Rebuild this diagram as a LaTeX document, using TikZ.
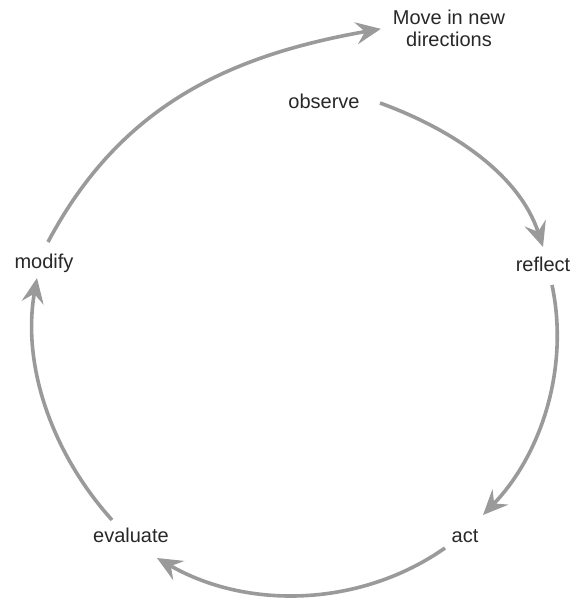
\documentclass[tikz,border=0pt]{standalone}
\usepackage{fontspec}
\setmainfont{Liberation Sans}
\usetikzlibrary{arrows.meta}
\definecolor{arrowgray}{RGB}{154,154,154}
\definecolor{textgray}{RGB}{40,40,40}
\begin{document}
\begin{tikzpicture}[x=1pt,y=1pt,
  lbl/.style={inner sep=0pt,outer sep=0pt,text=textgray,font=\fontsize{20}{22}\selectfont},
  cyc/.style={draw=arrowgray,line width=3.6pt,-{Stealth[length=25pt,width=22pt,inset=9pt]}}]
\useasboundingbox[fill=white] (0,0) rectangle (572,598);
\node[lbl,anchor=base] (observe) at (324,489) {observe};
\node[lbl,anchor=base] (reflect) at (543,326) {reflect};
\node[lbl,anchor=base] (act) at (465,56) {act};
\node[lbl,anchor=base] (evaluate) at (131,55) {evaluate};
\node[lbl,anchor=base] (modify) at (44,329) {modify};
\node[lbl,anchor=north,align=center] (move) at (449,587.5) {Move in new\\directions};
\draw[cyc] ([shift={(56pt,6pt)}]observe.base) to[out=-20,in=108,looseness=0.9] ([shift={(0pt,25pt)}]reflect.base);
\draw[cyc] ([shift={(9pt,-13pt)}]reflect.base) to[out=-78,in=46,looseness=0.9] ([shift={(18pt,27pt)}]act.base);
\draw[cyc] ([shift={(-20pt,-6pt)}]act.base) to[out=215,in=-30,looseness=0.92] ([shift={(26pt,-15pt)}]evaluate.base);
\draw[cyc] ([shift={(-19pt,23pt)}]evaluate.base) to[out=132,in=-100,looseness=0.9] ([shift={(-7pt,-9pt)}]modify.base);
\draw[cyc] ([shift={(4pt,27pt)}]modify.base) to[out=62,in=190,looseness=1.0] ([xshift=-12pt]move.west);
\end{tikzpicture}
\end{document}
